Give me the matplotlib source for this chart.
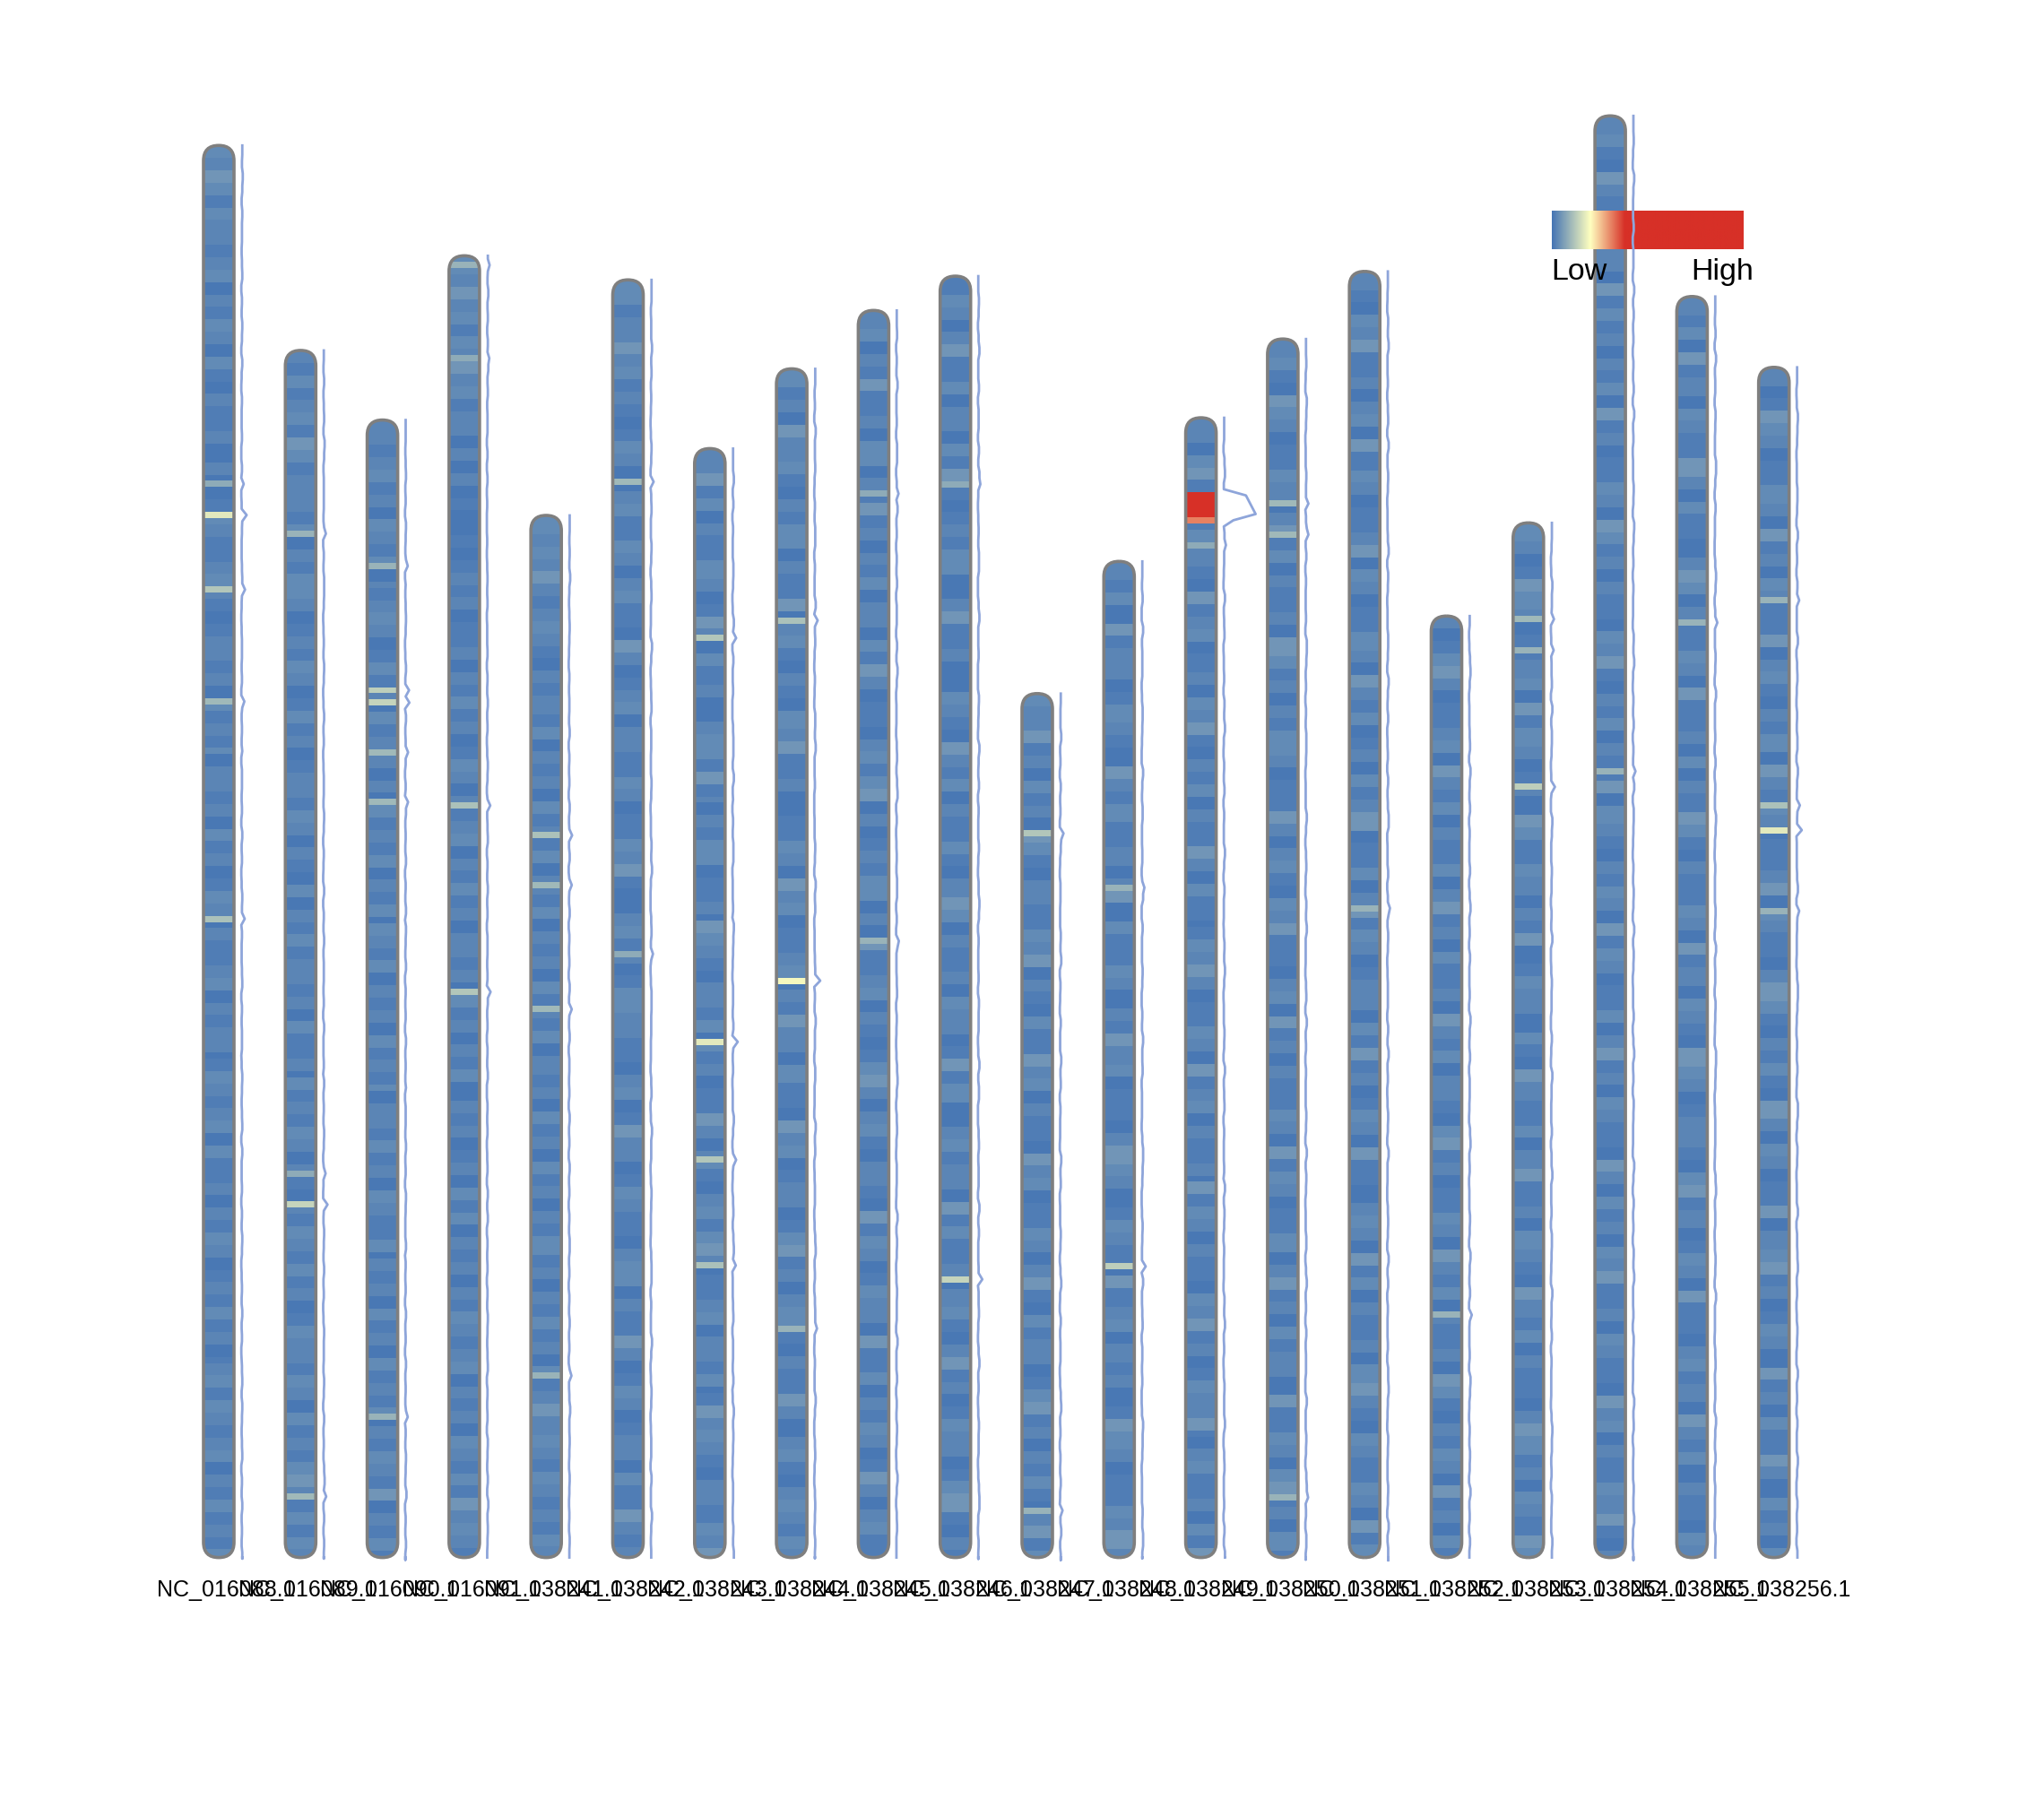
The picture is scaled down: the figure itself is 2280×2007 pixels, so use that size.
import numpy as np
import matplotlib
matplotlib.use("Agg")
import matplotlib.pyplot as plt
from matplotlib.colors import LinearSegmentedColormap, Normalize
from matplotlib.patches import FancyBboxPatch

# chromosome ids and lengths (Mb)
chrom_names = ["NC_016088.1", "NC_016089.1", "NC_016090.1", "NC_016091.1",
               "NC_038241.1", "NC_038242.1", "NC_038243.1", "NC_038244.1",
               "NC_038245.1", "NC_038246.1", "NC_038247.1", "NC_038248.1",
               "NC_038249.1", "NC_038250.1", "NC_038251.1", "NC_038252.1",
               "NC_038253.1", "NC_038254.1", "NC_038255.1", "NC_038256.1"]
chrom_len = [56.83, 48.58, 45.78, 52.39, 41.94, 51.42, 44.63, 47.84, 50.19, 51.57,
             34.77, 40.09, 45.87, 49.04, 51.76, 37.89, 41.64, 58.02, 50.75, 47.90]

# background density level along each chromosome (top -> bottom), ~0.5 Mb bins
base_levels = [
    "32431322123021320310211200200132112321012212031213022120312013202112302122013212303112021320121312012313212302131213",
    "21312314312221302133201213201312012213202103021312212031120312132021021321312013221320312134213132",
    "22123120321302123201312031222020312130213032130212031213022131203211302120312031213021321402131",
    "32423132423122020201001012120112021312013202123021312022120312021302120120313021202132123021203213142321",
    "323242123210212130212031213021302120312130212031203120213120213120312423213212132",
    "3312242312101320023113202311042012302211320113241002312013322110230142201321102330211420132012203114212",
    "2241302113320142031120023314120213301120432102213031201142023102313420112302213014232102211324",
    "3120422310213302114023102103241120011320423011230214220311042301220134120233102114202310232132",
    "2302141120330214120213022031420110231340201213302041123021013420231022104132013220411302132014202311",
    "1320241130220314101213300241120032104213021131024302112032201413002312204131120231024120132201341021",
    "3224120312043102211324021031142302110423011320241031220134120213102413",
    "2130412201321042131120240311320214230110243201321041230212014320113242",
    "2203412013221041230112032410213021142031101324201132041230211204132021103241201322410231120314",
    "2310432011320241302112043120213320114202310324110230412021132041320113024120312204113203412031",
    "2103241120230413201124032011320421301203124011302413201220314120132041102320413021120342103211320413",
    "2013420112304213021130241203112042130221034120113204213021120431021320412031",
    "3201432011230413201204311320214013220310421130241120321042130211024312032143",
    "2310421130220413120213041201132043120211032410213021140321021320413201130241203211042031203241120321104230211324102",
    "2130412032114203110243021132041120302143102113204120321043201221034120132041102312042130211032",
    "2014320113204120321140231021304213201124032110243102131042032011402341201320412031142031203",
]
level_value = [0.5, 1.5, 2.5, 3.5, 5.0]

# stand-out bins: (chromosome number, position from top in Mb, density)
hot_bins = [
    (1, 13.6, 8), (1, 14.8, 17), (1, 17.7, 12), (1, 22.2, 10), (1, 31.0, 11),
    (2, 7.2, 9), (2, 33.0, 8), (2, 34.15, 14), (2, 45.9, 10),
    (3, 5.8, 9), (3, 10.8, 13), (3, 11.3, 14), (3, 13.2, 10), (3, 15.2, 10), (3, 40.1, 9),
    (4, 0.3, 9), (4, 4.1, 8), (4, 22.0, 11), (4, 29.6, 12),
    (5, 12.66, 11), (5, 14.8, 10), (5, 19.86, 10), (5, 34.5, 9),
    (6, 7.96, 10), (6, 27.1, 8),
    (7, 7.47, 12), (7, 23.68, 17), (7, 28.48, 12), (7, 32.8, 11),
    (8, 10.08, 11), (8, 24.41, 19), (8, 38.4, 9),
    (9, 7.2, 8), (9, 25.2, 9),
    (10, 8.14, 8), (10, 40.3, 14),
    (11, 5.6, 12), (11, 32.7, 9),
    (12, 13.0, 9), (12, 28.26, 13),
    (13, 3.0, 70), (13, 3.25, 80), (13, 3.5, 90), (13, 3.75, 100), (13, 4.0, 31), (13, 5.07, 8),
    (14, 6.5, 10), (14, 7.86, 10), (14, 46.5, 9),
    (15, 25.6, 9),
    (16, 28.0, 9),
    (17, 3.7, 10), (17, 4.9, 9), (17, 10.6, 13),
    (18, 26.2, 9),
    (19, 12.95, 9),
    (20, 9.3, 9), (20, 17.5, 11), (20, 18.39, 17), (20, 21.7, 9),
]

cmap = LinearSegmentedColormap.from_list(
    "dens", [(0.0, "#4575b4"), (0.2, "#ffffbf"), (0.38, "#d73027"), (1.0, "#d73027")])
norm = Normalize(0, 100)

# pixel geometry of the canvas
W, H = 2280, 2007
PX_X, PX_Y = 91.3, 27.72     # pixels per chromosome slot / per Mb
X0, Y0 = 244, 1737.6         # first chromosome centre, baseline

fig = plt.figure(figsize=(W / 100, H / 100), dpi=100)
ax = fig.add_axes([0, 0, 1, 1])
ax.set_xlim(-X0 / PX_X, (W - X0) / PX_X)
ax.set_ylim((Y0 - H) / PX_Y, Y0 / PX_Y)
ax.axis("off")

half = 17 / PX_X
step = 0.25
line_off = 25 / PX_X
line_k = 0.36 / PX_X

for i, (name, L, lev) in enumerate(zip(chrom_names, chrom_len, base_levels)):
    n = int(np.ceil(L / step))
    starts = np.arange(n) * step
    idx = np.minimum((starts / (L / len(lev))).astype(int), len(lev) - 1)
    vals = np.array([level_value[int(lev[j])] for j in idx])
    for c, p, v in hot_bins:
        if c == i + 1:
            vals[min(int(round(p / step)), n - 1)] = v

    edges = L - np.minimum(np.append(starts, L), L)
    box = FancyBboxPatch((i - half, 0), 2 * half, L,
                         boxstyle=f"round,pad=0,rounding_size={half}",
                         mutation_aspect=PX_X / PX_Y,
                         fc="none", ec="#7f7f7f", lw=2.6, zorder=3)
    ax.add_patch(box)
    mesh = ax.pcolormesh([i - half, i + half], edges, vals[:, None],
                         cmap=cmap, norm=norm, shading="flat", zorder=2)
    mesh.set_clip_path(box)

    # density profile to the right of the chromosome
    yc = L - (starts + step / 2)
    ly = np.concatenate([[L], yc, [0]])
    lv = np.concatenate([[vals[0]], vals, [vals[-1]]])
    ax.plot(i + line_off + lv * line_k, ly, color="#8ea5da", lw=2.0, zorder=5)

    ax.text(i + 8 / PX_X, (Y0 - 1774) / PX_Y, name, ha="center", va="center",
            fontsize=18, family="Liberation Sans", color="black")

# legend bar
lx0, lx1, ly0, ly1 = 1731, 1945, 235, 278
grad = np.linspace(0, 100, 256)[None, :]
ax.imshow(grad, cmap=cmap, norm=norm, aspect="auto", zorder=4,
          extent=((lx0 - X0) / PX_X, (lx1 - X0) / PX_X,
                  (Y0 - ly1) / PX_Y, (Y0 - ly0) / PX_Y))
ax.text((1730 - X0) / PX_X, (Y0 - 312) / PX_Y, "Low", ha="left", va="baseline",
        fontsize=24.5, family="Liberation Sans", zorder=6)
ax.text((1886 - X0) / PX_X, (Y0 - 312) / PX_Y, "High", ha="left", va="baseline",
        fontsize=24.5, family="Liberation Sans", zorder=6)
ax.set_xlim(-X0 / PX_X, (W - X0) / PX_X)
ax.set_ylim((Y0 - H) / PX_Y, Y0 / PX_Y)

fig.savefig("out.png", dpi=100)
